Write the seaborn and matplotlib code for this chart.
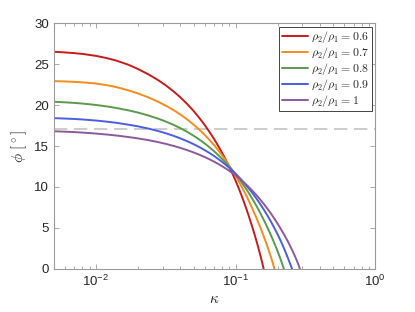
import numpy as np
import pandas as pd
import matplotlib
matplotlib.use("Agg")
import matplotlib.pyplot as plt
import matplotlib.ticker as mticker
import seaborn as sns

# values
# common kappa points up to 0.11, then a tail for each curve down to phi = 0
kappa_head = [0.005, 0.006, 0.007, 0.008, 0.01, 0.012, 0.014, 0.017, 0.02, 0.024,
              0.028, 0.032, 0.036, 0.04, 0.045, 0.05, 0.055, 0.06, 0.065, 0.07,
              0.075, 0.08, 0.085, 0.09, 0.095, 0.1, 0.105, 0.11]

phi_06_head = [26.5, 26.42, 26.33, 26.24, 26.0, 25.72, 25.42, 24.93, 24.4, 23.7,
               23.02, 22.34, 21.66, 20.98, 20.13, 19.28, 18.43, 17.58, 16.73, 15.88,
               15.03, 14.18, 13.33, 12.48, 11.63, 10.78, 9.9, 9.02]
kappa_06_tail = [0.115, 0.12, 0.125, 0.13, 0.135, 0.14, 0.145, 0.15, 0.155, 0.159]
phi_06_tail = [8.13, 7.24, 6.34, 5.44, 4.53, 3.62, 2.7, 1.75, 0.8, 0.0]

phi_07_head = [22.92, 22.88, 22.83, 22.77, 22.62, 22.42, 22.19, 21.8, 21.42, 20.9,
               20.39, 19.88, 19.38, 18.88, 18.25, 17.62, 17.0, 16.37, 15.75, 15.12,
               14.5, 13.87, 13.25, 12.62, 12.0, 11.37, 10.75, 10.12]
kappa_07_tail = [0.12, 0.13, 0.14, 0.15, 0.16, 0.17, 0.18, 0.185, 0.19]
phi_07_tail = [8.87, 7.62, 6.37, 5.12, 3.87, 2.62, 1.35, 0.7, 0.0]

phi_08_head = [20.4, 20.33, 20.26, 20.18, 20.01, 19.83, 19.64, 19.36, 19.08, 18.7,
               18.33, 17.95, 17.58, 17.2, 16.73, 16.26, 15.79, 15.32, 14.85, 14.38,
               13.91, 13.44, 12.97, 12.5, 12.03, 11.56, 11.09, 10.62]
kappa_08_tail = [0.12, 0.13, 0.14, 0.15, 0.16, 0.17, 0.18, 0.19, 0.2, 0.21, 0.222]
phi_08_tail = [9.68, 8.74, 7.8, 6.86, 5.92, 4.98, 4.04, 3.1, 2.16, 1.2, 0.0]

phi_09_head = [18.4, 18.35, 18.3, 18.24, 18.11, 17.97, 17.83, 17.61, 17.4, 17.11,
               16.82, 16.53, 16.24, 15.95, 15.59, 15.23, 14.87, 14.51, 14.15, 13.79,
               13.43, 13.07, 12.71, 12.35, 11.99, 11.63, 11.26, 10.89]
kappa_09_tail = [0.12, 0.13, 0.14, 0.15, 0.16, 0.17, 0.18, 0.19, 0.2, 0.21,
                 0.22, 0.23, 0.24, 0.254]
phi_09_tail = [10.15, 9.41, 8.67, 7.93, 7.19, 6.45, 5.71, 4.97, 4.23, 3.47,
               2.7, 1.9, 1.1, 0.0]

phi_10_head = [16.8, 16.75, 16.7, 16.64, 16.52, 16.4, 16.28, 16.1, 15.93, 15.7,
               15.47, 15.24, 15.01, 14.78, 14.5, 14.22, 13.94, 13.66, 13.38, 13.1,
               12.82, 12.54, 12.26, 11.98, 11.7, 11.42, 11.13, 10.84]
kappa_10_tail = [0.12, 0.13, 0.14, 0.15, 0.16, 0.17, 0.18, 0.19, 0.2, 0.21,
                 0.22, 0.23, 0.24, 0.25, 0.26, 0.27, 0.28, 0.289]
phi_10_tail = [10.25, 9.66, 9.07, 8.48, 7.89, 7.3, 6.71, 6.12, 5.53, 4.94,
               4.35, 3.76, 3.17, 2.57, 1.95, 1.32, 0.67, 0.0]

ratio_labels = ["0.6", "0.7", "0.8", "0.9", "1"]
line_colors = ["#c81a1a", "#f28c1c", "#5a9a4c", "#4a5ee0", "#8c5a9c"]
ref_phi = 17.1

heads = [phi_06_head, phi_07_head, phi_08_head, phi_09_head, phi_10_head]
tails_k = [kappa_06_tail, kappa_07_tail, kappa_08_tail, kappa_09_tail, kappa_10_tail]
tails_p = [phi_06_tail, phi_07_tail, phi_08_tail, phi_09_tail, phi_10_tail]

names = [r"$\rho_2/\rho_1 = " + lab + "$" for lab in ratio_labels]

rows = []
for name, ph, tk, tp in zip(names, heads, tails_k, tails_p):
    for kk, pp in zip(kappa_head + tk, ph + tp):
        rows.append({"kappa": kk, "phi": pp, "series": name})
df = pd.DataFrame(rows)

sns.set_style("white")
plt.rcParams["font.family"] = ["Liberation Sans", "DejaVu Sans"]
plt.rcParams["mathtext.fontset"] = "cm"

fig = plt.figure(figsize=(4.15, 3.12), dpi=100)
ax = fig.add_axes([0.130, 0.138, 0.774, 0.788])

# reference level
ax.axhline(ref_phi, color="#c4c4c4", lw=1.2, ls=(0, (8, 4)), zorder=1)

sns.lineplot(data=df, x="kappa", y="phi", hue="series", hue_order=names,
             palette=line_colors, lw=1.4, sort=False, estimator=None, ax=ax)

ax.set_xscale("log")
ax.set_xlim(0.005, 1)
ax.set_ylim(0, 30)
ax.set_yticks(range(0, 31, 5))
ax.set_xticks([0.01, 0.1, 1])
ax.xaxis.set_minor_locator(mticker.LogLocator(base=10, subs=np.arange(2, 10)))
ax.xaxis.set_minor_formatter(mticker.NullFormatter())

for s in ax.spines.values():
    s.set_color("#9a9a9a")
    s.set_linewidth(0.8)
ax.tick_params(which="both", direction="in", bottom=True, left=True, top=True, right=True,
               colors="#9a9a9a", labelcolor="#262626", labelsize=9.5)
ax.tick_params(which="major", length=3.5, width=0.6)
ax.tick_params(which="minor", length=2, width=0.6)

ax.set_xlabel(r"$\kappa$", fontsize=11, color="#262626", labelpad=2)
ax.set_ylabel(r"$\phi\ [^\circ]$", fontsize=11, color="#262626", labelpad=4)

leg = ax.legend(loc="upper right", fontsize=8.5, frameon=True, fancybox=False,
                edgecolor="#262626", framealpha=1, handlelength=2.2,
                borderpad=0.2, labelspacing=0.0, handletextpad=0.3,
                borderaxespad=0.3)
leg.get_frame().set_linewidth(0.6)

fig.savefig("out.png", dpi=100)
